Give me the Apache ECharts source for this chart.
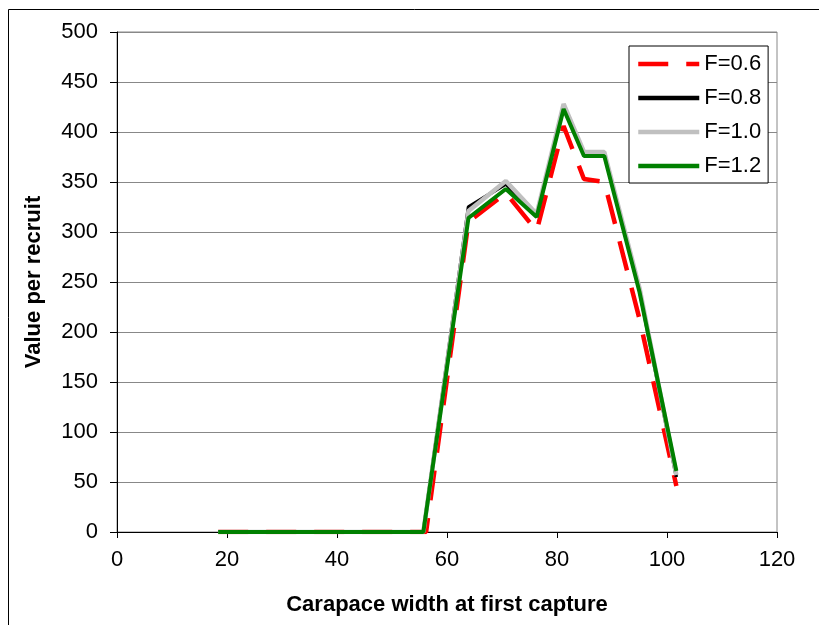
<!DOCTYPE html>
<html>
<head>
<meta charset="utf-8">
<script src="https://cdn.jsdelivr.net/npm/echarts@6/dist/echarts.min.js"></script>
<style>
  html, body { margin: 0; padding: 0; background: #fff; }
  #chart { width: 819px; height: 625px; }
</style>
</head>
<body>
<div id="chart"></div>
<script>
// Carapace width at first capture (mm) for each curve vertex
const widths = [18.4, 55.7, 63.9, 70.7, 76.3, 81.2, 84.9, 88.6, 95.0, 101.7];
const widthsF06 = [18.4, 56.2, 63.9, 70.7, 76.3, 81.2, 84.9, 88.6, 95.0, 101.7];

// Value per recruit by fishing mortality
const valueF06 = [0, 0, 310, 339, 301, 406, 353, 350, 213, 46];
const valueF08 = [0, 0, 325, 348, 317, 425, 378, 378, 242, 55];
const valueF10 = [0, 0, 321, 351, 318, 428, 380, 380, 244, 57];
const valueF12 = [0, 0, 314, 343, 315, 423, 376, 376, 240, 61];

const seriesNames = ['F=0.6', 'F=0.8', 'F=1.0', 'F=1.2'];
const yTicks = [0, 50, 100, 150, 200, 250, 300, 350, 400, 450, 500];
const xTicks = [0, 20, 40, 60, 80, 100, 120];

const FONT = '"Liberation Sans", Arial, sans-serif';

function pairs(xs, ys) {
  return xs.map((x, i) => [x, ys[i]]);
}

const chart = echarts.init(document.getElementById('chart'), null, { renderer: 'canvas' });

chart.setOption({
  animation: false,
  backgroundColor: '#fff',
  textStyle: { fontFamily: FONT, color: '#000' },
  graphic: [{
    type: 'rect',
    shape: { x: 8.5, y: 9.5, width: 900, height: 700 },
    style: { fill: 'none', stroke: '#000', lineWidth: 1 },
    z: -10
  }],
  grid: {
    left: 117, right: 42, top: 32, bottom: 93,
    show: true, borderColor: '#888', borderWidth: 1, backgroundColor: '#fff'
  },
  legend: {
    orient: 'vertical',
    left: 629, top: 46,
    padding: [7, 7, 6, 7],
    itemWidth: 61, itemHeight: 22, itemGap: 12,
    borderColor: '#000', borderWidth: 1, backgroundColor: '#fff',
    textStyle: { fontFamily: FONT, fontSize: 22, color: '#000', lineHeight: 22 },
    // line-only keys: hide the marker glyph drawn in the middle of each key
    itemStyle: { opacity: 0 },
    lineStyle: { width: 4.5 },
    data: seriesNames
  },
  xAxis: {
    type: 'value',
    min: xTicks[0], max: xTicks[xTicks.length - 1], interval: 20,
    name: 'Carapace width at first capture',
    nameLocation: 'middle', nameGap: 62,
    nameTextStyle: { fontFamily: FONT, fontSize: 22, fontWeight: 'bold', color: '#000' },
    axisLine: { lineStyle: { color: '#000', width: 1 } },
    axisTick: { length: 6, lineStyle: { color: '#000' } },
    axisLabel: { fontFamily: FONT, fontSize: 22, color: '#000', margin: 17 },
    splitLine: { show: false }
  },
  yAxis: {
    type: 'value',
    min: yTicks[0], max: yTicks[yTicks.length - 1], interval: 50,
    name: 'Value per recruit',
    nameLocation: 'middle', nameGap: 72,
    nameTextStyle: { fontFamily: FONT, fontSize: 22, fontWeight: 'bold', color: '#000' },
    axisLine: { show: true, lineStyle: { color: '#000', width: 1 } },
    axisTick: { show: true, length: 7, lineStyle: { color: '#000' } },
    axisLabel: { fontFamily: FONT, fontSize: 22, color: '#000', margin: 19 },
    splitLine: { show: true, lineStyle: { color: '#888', width: 1 } }
  },
  series: [
    {
      name: seriesNames[0], type: 'line', symbol: 'none',
      data: pairs(widthsF06, valueF06),
      lineStyle: { color: '#ff0000', width: 4.5, type: [30, 18] },
      itemStyle: { color: '#ff0000' }, z: 2
    },
    {
      name: seriesNames[1], type: 'line', symbol: 'none',
      data: pairs(widths, valueF08),
      lineStyle: { color: '#000000', width: 3.5 },
      itemStyle: { color: '#000000' }, z: 3
    },
    {
      name: seriesNames[2], type: 'line', symbol: 'none',
      data: pairs(widths, valueF10),
      lineStyle: { color: '#c0c0c0', width: 4.5 },
      itemStyle: { color: '#c0c0c0' }, z: 4
    },
    {
      name: seriesNames[3], type: 'line', symbol: 'none',
      data: pairs(widths, valueF12),
      lineStyle: { color: '#008000', width: 4 },
      itemStyle: { color: '#008000' }, z: 5
    }
  ]
});
</script>
</body>
</html>
